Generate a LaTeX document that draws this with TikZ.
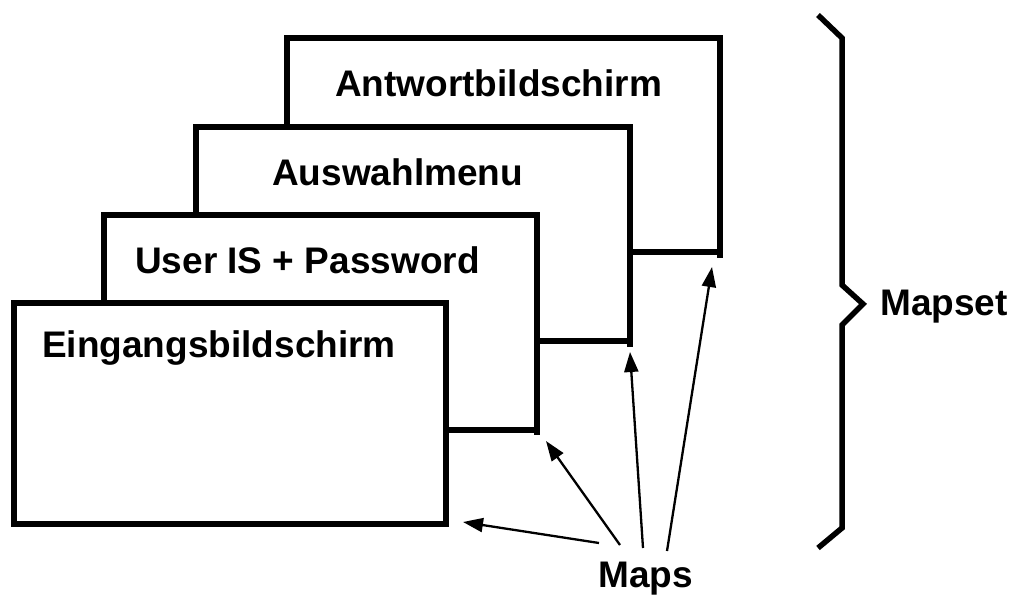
\documentclass[tikz,border=0pt]{standalone}
\usepackage{fontspec}
\setmainfont{Liberation Sans}
\usetikzlibrary{arrows.meta}
\tikzset{
  screen/.style={draw=black, fill=white, line width=5.5pt, rectangle, anchor=north west, inner sep=0pt, outer sep=0pt, line join=miter},
  stub/.style={line width=5.5pt},
  lbl/.style={anchor=base west, inner sep=0pt, font=\fontsize{37}{40}\selectfont\bfseries},
  maparrow/.style={line width=2.3pt, -{Triangle[length=20pt,width=14pt]}},
  bracestyle/.style={line width=5.5pt, line join=miter}
}
\begin{document}
\begin{tikzpicture}[x=1pt,y=-1pt]
\useasboundingbox (0,0) rectangle (1014,595);
% screens, back to front
\node[screen, minimum width=433pt, minimum height=214pt] (b4) at (287,38) {};
\draw[stub] (b4.south east) -- ++(0,6);
\node[screen, minimum width=434pt, minimum height=214pt] (b3) at (196,127) {};
\draw[stub] (b3.south east) -- ++(0,6);
\node[screen, minimum width=433pt, minimum height=215pt] (b2) at (104,215) {};
\draw[stub] (b2.south east) -- ++(0,5);
\node[screen, minimum width=432pt, minimum height=221pt] (b1) at (14,303) {};
% labels
\node[lbl] (t4) at (335,96) {Antwortbildschirm};
\node[lbl] (t3) at (272,185) {Auswahlmenu};
\node[lbl] (t2) at (135,273) {User IS + Password};
\node[lbl] (t1) at (42,357) {Eingangsbildschirm};
\node[lbl] (maps) at (598,587) {Maps};
\node[lbl] (mapset) at (880,315) {Mapset};
% brace
\draw[bracestyle] (818,15) -- (842,38) -- (842,285) -- (863,304) -- (842,325) -- (842,528) -- (818,548);
% arrows
\coordinate (s1) at (599,543);
\coordinate (s2) at (620,545);
\coordinate (s3) at (643,548);
\coordinate (s4) at (667,551);
\coordinate (e1) at (463,522);
\coordinate (e2) at (546,441);
\coordinate (e3) at (630,352);
\coordinate (e4) at (712,267);
\draw[maparrow] (s1) -- (e1);
\draw[maparrow] (s2) -- (e2);
\draw[maparrow] (s3) -- (e3);
\draw[maparrow] (s4) -- (e4);
\end{tikzpicture}
\end{document}
